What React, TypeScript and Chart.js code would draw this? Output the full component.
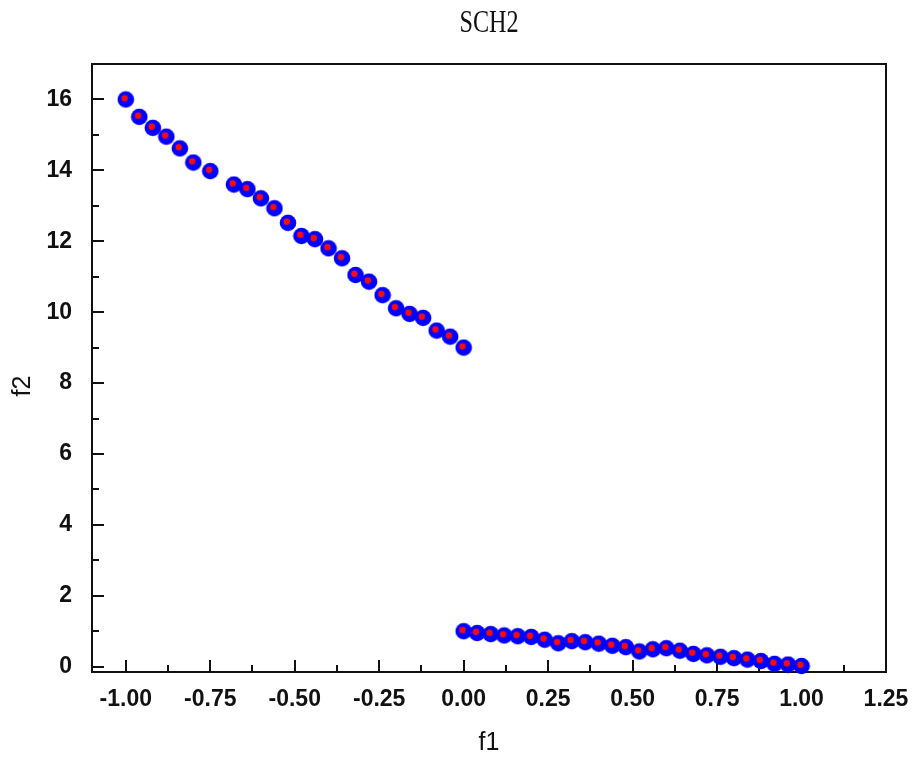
import React, { useEffect, useRef } from "react";
import { Chart, registerables } from "chart.js";

Chart.register(...registerables);

const chartTitle = "SCH2";
const xAxisTitle = "f1";
const yAxisTitle = "f2";

const upperF1 = [-1.0, -0.96, -0.92, -0.88, -0.84, -0.8, -0.75, -0.68, -0.64, -0.6, -0.56, -0.52, -0.48, -0.44, -0.4, -0.36, -0.32, -0.28, -0.24, -0.2, -0.16, -0.12, -0.08, -0.04, 0.0];
const upperF2 = [16.0, 15.51, 15.2, 14.95, 14.62, 14.22, 13.98, 13.6, 13.47, 13.21, 12.93, 12.52, 12.15, 12.06, 11.8, 11.52, 11.05, 10.86, 10.48, 10.11, 9.95, 9.84, 9.48, 9.31, 9.0];

const lowerF1 = [0.0, 0.04, 0.08, 0.12, 0.16, 0.2, 0.24, 0.28, 0.32, 0.36, 0.4, 0.44, 0.48, 0.52, 0.56, 0.6, 0.64, 0.68, 0.72, 0.76, 0.8, 0.84, 0.88, 0.92, 0.96, 1.0];
const lowerF2 = [1.0, 0.95, 0.92, 0.88, 0.86, 0.84, 0.76, 0.66, 0.72, 0.69, 0.65, 0.59, 0.55, 0.43, 0.49, 0.52, 0.45, 0.36, 0.32, 0.28, 0.24, 0.2, 0.16, 0.08, 0.06, 0.02];

const xTickValues = [-1.0, -0.75, -0.5, -0.25, 0.0, 0.25, 0.5, 0.75, 1.0, 1.25];
const xMinorTickValues = [-0.875, -0.625, -0.375, -0.125, 0.125, 0.375, 0.625, 0.875, 1.125];
const yTickValues = [0, 2, 4, 6, 8, 10, 12, 14, 16];
const yMinorTickValues = [1, 3, 5, 7, 9, 11, 13, 15];

const X_MIN = -1.1;
const X_MAX = 1.25;
const Y_MIN = -0.15;
const Y_MAX = 17;

function makeMarker(): HTMLCanvasElement {
  const c = document.createElement("canvas");
  c.width = 18;
  c.height = 18;
  const g = c.getContext("2d")!;
  g.fillStyle = "#0000ff";
  g.beginPath();
  g.arc(9, 9, 8.3, 0, Math.PI * 2);
  g.fill();
  g.fillStyle = "#ff0a0a";
  g.beginPath();
  g.arc(7.8, 7.8, 3.2, 0, Math.PI * 2);
  g.fill();
  return c;
}

const framePlugin = {
  id: "frameAndTicks",
  beforeDatasetsDraw(chart: any) {
    const { ctx, chartArea } = chart;
    const xs = chart.scales.x;
    const ys = chart.scales.y;
    ctx.save();
    ctx.strokeStyle = "#111";
    ctx.lineWidth = 2;
    ctx.strokeRect(chartArea.left, chartArea.top, chartArea.right - chartArea.left, chartArea.bottom - chartArea.top);
    ctx.beginPath();
    const major = 12;
    const minor = 7;
    xTickValues.forEach((v) => {
      const px = Math.round(xs.getPixelForValue(v));
      ctx.moveTo(px, chartArea.bottom);
      ctx.lineTo(px, chartArea.bottom - major);
    });
    xMinorTickValues.forEach((v) => {
      const px = Math.round(xs.getPixelForValue(v));
      ctx.moveTo(px, chartArea.bottom);
      ctx.lineTo(px, chartArea.bottom - minor);
    });
    yTickValues.forEach((v) => {
      const py = Math.round(ys.getPixelForValue(v));
      ctx.moveTo(chartArea.left, py);
      ctx.lineTo(chartArea.left + major, py);
    });
    yMinorTickValues.forEach((v) => {
      const py = Math.round(ys.getPixelForValue(v));
      ctx.moveTo(chartArea.left, py);
      ctx.lineTo(chartArea.left + minor, py);
    });
    ctx.stroke();
    ctx.restore();
  },
  afterDraw(chart: any) {
    const { ctx, chartArea } = chart;
    const cx = (chartArea.left + chartArea.right) / 2;
    ctx.save();
    ctx.fillStyle = "#111";
    ctx.save();
    ctx.font = "31px 'Liberation Serif', 'DejaVu Serif', serif";
    ctx.textAlign = "center";
    ctx.textBaseline = "middle";
    ctx.translate(cx, 24);
    ctx.scale(0.78, 1);
    ctx.fillText(chartTitle, 0, 0);
    ctx.restore();
    ctx.font = "25px 'Liberation Sans', Arial, sans-serif";
    ctx.textAlign = "center";
    ctx.textBaseline = "middle";
    ctx.fillText(xAxisTitle, cx, 743);
    ctx.save();
    ctx.translate(23, 386);
    ctx.rotate(-Math.PI / 2);
    ctx.fillText(yAxisTitle, 0, 0);
    ctx.restore();
    ctx.restore();
  },
};

export default function App() {
  const ref = useRef<HTMLCanvasElement | null>(null);
  useEffect(() => {
    if (!ref.current) return;
    const marker = makeMarker();
    const upper = upperF1.map((x, i) => ({ x, y: upperF2[i] }));
    const lower = lowerF1.map((x, i) => ({ x, y: lowerF2[i] }));
    const tickFont = { family: "'Liberation Sans', Arial, sans-serif", size: 23, weight: "bold" as const };
    const chart = new Chart(ref.current, {
      type: "scatter",
      data: {
        datasets: [
          { label: "upper", data: upper, pointStyle: marker as any, pointRadius: 9, clip: false as any },
          { label: "lower", data: lower, pointStyle: marker as any, pointRadius: 9, clip: false as any },
        ],
      },
      options: {
        animation: false,
        responsive: false,
        maintainAspectRatio: false,
        layout: { padding: { left: 0, right: 31, top: 64, bottom: 0 } },
        plugins: { legend: { display: false }, tooltip: { enabled: false }, title: { display: false } },
        scales: {
          x: {
            type: "linear",
            min: X_MIN,
            max: X_MAX,
            grid: { display: false },
            border: { display: false },
            afterBuildTicks: (s: any) => {
              s.ticks = xTickValues.map((v) => ({ value: v }));
            },
            afterFit: (s: any) => {
              s.height = 86;
            },
            ticks: {
              color: "#111",
              font: tickFont,
              padding: 6,
              maxRotation: 0,
              autoSkip: false,
              callback: (v: any) => Number(v).toFixed(2),
            },
          },
          y: {
            type: "linear",
            min: Y_MIN,
            max: Y_MAX,
            grid: { display: false },
            border: { display: false },
            afterBuildTicks: (s: any) => {
              s.ticks = yTickValues.map((v) => ({ value: v }));
            },
            afterFit: (s: any) => {
              s.width = 92;
            },
            ticks: {
              color: "#111",
              font: tickFont,
              padding: 12,
              autoSkip: false,
              callback: (v: any) => String(v),
            },
          },
        },
      },
      plugins: [framePlugin],
    });
    return () => chart.destroy();
  }, []);
  return (
    <div style={{ position: "absolute", left: 0, top: 0, width: 917, height: 758, background: "#fff" }}>
      <canvas ref={ref} width={917} height={758} style={{ display: "block" }} />
    </div>
  );
}
